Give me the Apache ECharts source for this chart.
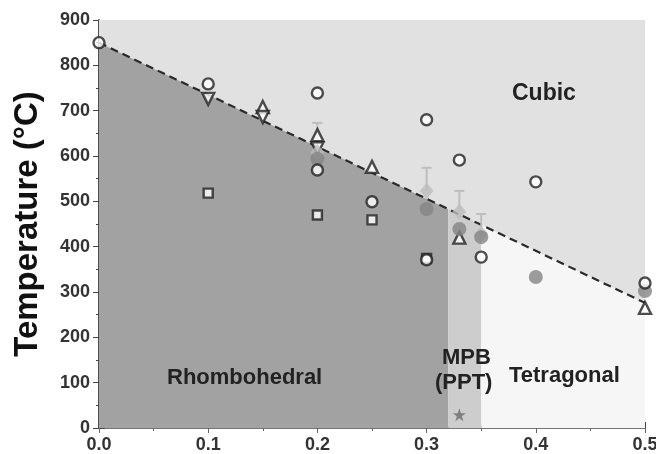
<!DOCTYPE html>
<html>
<head>
<meta charset="utf-8">
<script src="https://cdn.jsdelivr.net/npm/echarts@6/dist/echarts.min.js"></script>
<style>
html,body{margin:0;padding:0;background:#fff;}
#chart{width:656px;height:454px;}
</style>
</head>
<body>
<div id="chart"></div>
<script>
// ---- data ----
var xTicks = [0.0, 0.1, 0.2, 0.3, 0.4, 0.5];
var yTicks = [0, 100, 200, 300, 400, 500, 600, 700, 800, 900];
// phase bands (x ranges): Rhombohedral, MPB, Tetragonal
var bandEdges = [[0, 0.32], [0.32, 0.35], [0.35, 0.5]];
// cubic boundary (dashed line)
var boundary = [[0, 850], [0.5, 276]];
var openCircles = [[0, 850], [0.1, 759], [0.2, 739], [0.2, 569], [0.25, 499], [0.3, 680], [0.3, 371], [0.33, 591], [0.35, 377], [0.4, 543], [0.5, 320]];
var filledCircles = [[0.2, 594], [0.3, 483], [0.33, 439], [0.35, 421], [0.4, 333], [0.5, 302]];
var diamonds = [[0.2, 608], [0.3, 523], [0.33, 477], [0.35, 428]];
var diamondErrTop = [673, 574, 523, 472];
var upTriangles = [[0.15, 708], [0.2, 646], [0.25, 576], [0.33, 420], [0.5, 265]];
var downTriangles = [[0.1, 726], [0.15, 686], [0.2, 617]];
var squares = [[0.1, 518], [0.2, 470], [0.25, 459], [0.3, 374]];
var star = [[0.33, 29]];

var chart = echarts.init(document.getElementById('chart'));
var bandColors = ['#a2a2a2', '#cdcdcd', '#f6f6f6'];
var fam = 'Liberation Sans, Arial, sans-serif';
var starPath = 'path://M50,0 L61.8,35.3 L98.9,35.3 L68.9,57.1 L80.3,92.7 L50,70.9 L19.7,92.7 L31.1,57.1 L1.1,35.3 L38.2,35.3 Z';

var errData = diamonds.map(function (d, i) { return [d[0], d[1], diamondErrTop[i]]; });

var openStyle = {color: '#ffffff', borderColor: '#222', borderWidth: 2.4};

var option = {
  animation: false,
  backgroundColor: '#ffffff',
  grid: {left: 99, right: 11, top: 20, bottom: 26, containLabel: false, outerBoundsMode: 'none'},
  xAxis: [{
    type: 'value', min: 0, max: 0.5, interval: 0.1,
    axisLine: {lineStyle: {color: '#444', width: 1.5}},
    axisTick: {inside: true, length: 6, lineStyle: {color: '#444'}},
    minorTick: {show: true, splitNumber: 2, length: 3, lineStyle: {color: '#444'}},
    splitLine: {show: false},
    axisLabel: {fontSize: 18, fontWeight: 'bold', color: '#333', margin: 8, fontFamily: fam,
      formatter: function (v) { return v.toFixed(1); }}
  }, {
    type: 'value', min: 0, max: 0.5, interval: 0.1, position: 'top',
    axisLine: {lineStyle: {color: '#777', width: 1}},
    axisTick: {inside: true, length: 5, lineStyle: {color: '#666'}},
    minorTick: {show: true, splitNumber: 2, length: 3, lineStyle: {color: '#666'}},
    splitLine: {show: false}, axisLabel: {show: false}
  }],
  yAxis: [{
    type: 'value', min: 0, max: 900, interval: 100,
    name: 'Temperature (°C)', nameLocation: 'middle', nameGap: 55,
    nameTextStyle: {fontSize: 33, fontWeight: 'bold', color: '#111', fontFamily: fam},
    axisLine: {lineStyle: {color: '#444', width: 1.5}},
    axisTick: {inside: true, length: 6, lineStyle: {color: '#444'}},
    minorTick: {show: true, splitNumber: 2, length: 3, lineStyle: {color: '#444'}},
    splitLine: {show: false},
    axisLabel: {fontSize: 18, fontWeight: 'bold', color: '#333', margin: 9, fontFamily: fam}
  }, {
    type: 'value', min: 0, max: 900, interval: 100, position: 'right',
    axisLine: {show: true, lineStyle: {color: '#444', width: 1.5}},
    axisTick: {inside: true, length: 6, lineStyle: {color: '#444'}},
    minorTick: {show: true, splitNumber: 2, length: 3, lineStyle: {color: '#444'}},
    splitLine: {show: false}, axisLabel: {show: false}
  }],
  series: [
    {
      type: 'custom', z: 1, silent: true,
      data: bandEdges.map(function (b, i) { return [b[0], b[1], i]; }),
      renderItem: function (params, api) {
        var p0 = api.coord([api.value(0), 900]);
        var p1 = api.coord([api.value(1), 0]);
        return {type: 'rect', shape: {x: p0[0], y: p0[1], width: p1[0] - p0[0], height: p1[1] - p0[1]},
          style: {fill: bandColors[api.value(2)]}};
      }
    },
    {
      type: 'line', z: 2, data: boundary, symbol: 'none', silent: true,
      lineStyle: {color: '#2a2a2a', width: 2.2, type: [8, 5]},
      areaStyle: {color: '#e1e1e1', opacity: 1, origin: 'end'}
    },
    {
      type: 'custom', z: 3, silent: true, data: errData,
      renderItem: function (params, api) {
        var a = api.coord([api.value(0), api.value(1)]);
        var b = api.coord([api.value(0), api.value(2)]);
        return {type: 'group', children: [
          {type: 'line', shape: {x1: a[0], y1: a[1], x2: b[0], y2: b[1]}, style: {stroke: '#bdbdbd', lineWidth: 2}},
          {type: 'line', shape: {x1: b[0] - 5, y1: b[1], x2: b[0] + 5, y2: b[1]}, style: {stroke: '#bdbdbd', lineWidth: 2}}
        ]};
      }
    },
    {type: 'scatter', z: 4, data: squares, symbol: 'rect', symbolSize: 9, itemStyle: openStyle},
    {type: 'scatter', z: 4, data: upTriangles, symbol: 'triangle', symbolSize: 12, itemStyle: openStyle},
    {type: 'scatter', z: 4, data: downTriangles, symbol: 'triangle', symbolRotate: 180, symbolSize: 12, itemStyle: openStyle},
    {type: 'scatter', z: 5, data: diamonds, symbol: 'diamond', symbolSize: [14, 16], itemStyle: {color: '#bdbdbd'}},
    {type: 'scatter', z: 6, data: filledCircles, symbol: 'circle', symbolSize: 14, itemStyle: {color: '#858585'}},
    {type: 'scatter', z: 7, data: openCircles, symbol: 'circle', symbolSize: 11, itemStyle: openStyle},
    {type: 'scatter', z: 7, data: star, symbol: starPath, symbolSize: 13, itemStyle: {color: '#6a6a6a'}}
  ],
  graphic: [
    {type: 'text', left: 512, top: 82, z: 10, style: {text: 'Cubic', font: 'bold 23px ' + fam, fill: '#222'}},
    {type: 'text', left: 167, top: 367, z: 10, style: {text: 'Rhombohedral', font: 'bold 22px ' + fam, fill: '#222'}},
    {type: 'text', left: 509, top: 365, z: 10, style: {text: 'Tetragonal', font: 'bold 22px ' + fam, fill: '#222'}},
    {type: 'text', left: 442, top: 347, z: 10, style: {text: 'MPB', font: 'bold 22px ' + fam, fill: '#222'}},
    {type: 'text', left: 435, top: 372, z: 10, style: {text: '(PPT)', font: 'bold 22px ' + fam, fill: '#222'}}
  ]
};
chart.setOption(option);
</script>
</body>
</html>
